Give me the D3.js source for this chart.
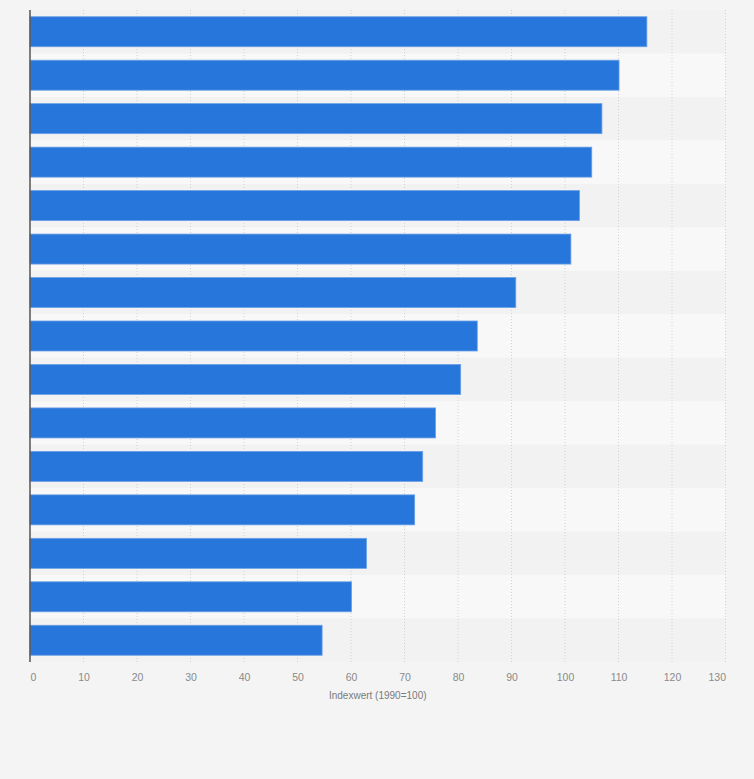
<!DOCTYPE html>
<html>
<head>
<meta charset="utf-8">
<script src="https://cdn.jsdelivr.net/npm/d3@7"></script>
<style>
  body { margin: 0; background: #f4f4f4; }
  svg { display: block; font-family: "Liberation Sans", Arial, sans-serif; }
</style>
</head>
<body>
<div id="chart"></div>
<script>
// data (category names are not shown in the chart)
var categories = ['1', '2', '3', '4', '5', '6', '7', '8', '9', '10', '11', '12', '13', '14', '15'];
var values = [115.3, 110.1, 106.9, 105.0, 102.7, 101.1, 90.8, 83.6, 80.5, 75.8, 73.4, 71.9, 62.9, 60.1, 54.6];
var xTicks = [0, 10, 20, 30, 40, 50, 60, 70, 80, 90, 100, 110, 120, 130];
var xTitle = 'Indexwert (1990=100)';

var svgWidth = 754;
var svgHeight = 779;

var margin = { top: 10, bottom: 117, left: 30, right: 28.5 };
var width = svgWidth - margin.left - margin.right;
var height = svgHeight - margin.top - margin.bottom;

var svg = d3.select('#chart')
  .append('svg')
  .attr('width', svgWidth)
  .attr('height', svgHeight);

svg.append('rect')
  .attr('width', svgWidth)
  .attr('height', svgHeight)
  .attr('fill', '#f4f4f4');

var chart = svg.append('g')
  .attr('transform', `translate(${margin.left}, ${margin.top})`);

var x = d3.scaleLinear()
  .domain([0, 130])
  .range([0, width]);

var y = d3.scaleBand()
  .domain(categories)
  .range([0, height])
  .paddingInner(0.31)
  .paddingOuter(0.155);

var rows = d3.scaleBand()
  .domain(categories)
  .range([0, height]);

// alternating row stripes
chart.selectAll('.stripe')
  .data(categories)
  .enter()
  .append('rect')
  .attr('class', 'stripe')
  .attr('x', 0)
  .attr('y', d => rows(d))
  .attr('width', width)
  .attr('height', rows.bandwidth())
  .attr('fill', (d, i) => i % 2 === 0 ? '#f2f2f2' : '#f8f8f8');

// vertical grid lines
chart.selectAll('.grid')
  .data(xTicks.slice(1))
  .enter()
  .append('line')
  .attr('class', 'grid')
  .attr('x1', d => x(d))
  .attr('x2', d => x(d))
  .attr('y1', 0)
  .attr('y2', height)
  .attr('stroke', '#d2d2d2')
  .attr('stroke-width', 1)
  .attr('stroke-dasharray', '1,2');

// bars
chart.selectAll('.bar')
  .data(values)
  .enter()
  .append('rect')
  .attr('class', 'bar')
  .attr('x', 0)
  .attr('y', (d, i) => y(categories[i]))
  .attr('width', d => x(d))
  .attr('height', y.bandwidth())
  .attr('fill', '#2776db')
  .attr('stroke', '#6a9fe6')
  .attr('stroke-width', 0.8);

// bottom axis labels
var bottomAxis = d3.axisBottom(x)
  .tickValues(xTicks)
  .tickSize(0)
  .tickPadding(0);

var xAxis = chart.append('g')
  .attr('transform', `translate(0, ${height})`)
  .call(bottomAxis);

xAxis.select('.domain').remove();
xAxis.selectAll('text')
  .attr('y', 19)
  .attr('dy', 0)
  .attr('fill', '#8a8a8a')
  .attr('font-size', '10.5px')
  .attr('font-family', '"Liberation Sans", Arial, sans-serif')
  .attr('text-anchor', (d, i) => i === 0 ? 'start' : (i === xTicks.length - 1 ? 'end' : 'middle'));

// left axis line
chart.append('line')
  .attr('x1', 0)
  .attr('x2', 0)
  .attr('y1', 0)
  .attr('y2', height)
  .attr('stroke', '#555')
  .attr('stroke-width', 1.5);

// axis title
chart.append('text')
  .attr('x', width / 2)
  .attr('y', height + 37)
  .attr('text-anchor', 'middle')
  .attr('fill', '#7a7a7a')
  .attr('font-size', '10px')
  .text(xTitle);
</script>
</body>
</html>
